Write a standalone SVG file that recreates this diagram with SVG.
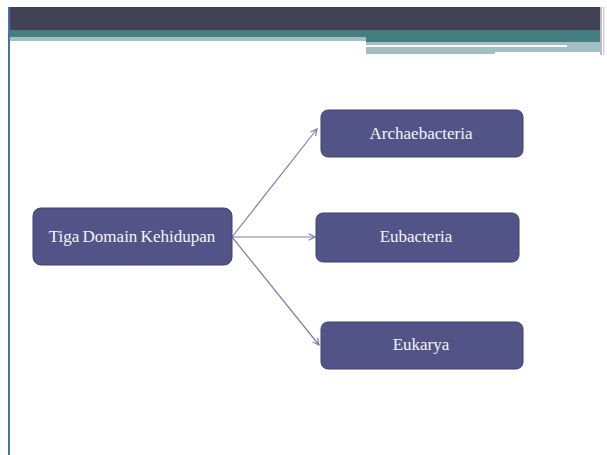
<svg xmlns="http://www.w3.org/2000/svg" width="607" height="455" viewBox="0 0 607 455">
<style>
.node rect{fill:#525487;stroke:#3f4170;stroke-width:1}
.node text{font-family:"Liberation Serif","DejaVu Serif",serif;font-size:17px;fill:#f4f4f8;text-anchor:middle}
.conn line{stroke:#7c7dab;stroke-width:1.2;marker-end:url(#arr)}
</style>
<defs>
<marker id="arr" viewBox="0 0 10 10" refX="9" refY="5" markerWidth="8" markerHeight="8" markerUnits="userSpaceOnUse" orient="auto">
<path d="M1,1 L9,5 L1,9" fill="none" stroke="#7c7dab" stroke-width="1.5"/>
</marker>
</defs>
<rect width="607" height="455" fill="#ffffff"/>
<g id="header">
<rect x="9" y="7" width="592" height="23" fill="#414355"/>
<rect x="9" y="30" width="592" height="7" fill="#447e80"/>
<rect x="9" y="37" width="357" height="4" fill="#a3bfc1"/>
<rect x="366" y="37" width="235" height="5" fill="#447e80"/>
<rect x="366" y="42" width="235" height="10" fill="#a3bfc1"/>
<rect x="366" y="45" width="201" height="2" fill="#ffffff"/>
<rect x="366" y="52" width="129" height="2" fill="#a3bfc1"/>
<rect x="600" y="7" width="2" height="48" fill="#b9bcc4"/>
<rect x="603" y="7" width="1.5" height="48" fill="#d0d2d8"/>
<rect x="8" y="7" width="2" height="448" fill="#4d70ac"/>
</g>
<g class="conn" id="connectors">
<line x1="232" y1="237" x2="317" y2="129"/>
<line x1="232" y1="237" x2="315" y2="237"/>
<line x1="232" y1="237" x2="319" y2="345"/>
</g>
<g class="node" id="root">
<rect x="33" y="208" width="199" height="57" rx="8"/>
<text x="132" y="242" word-spacing="-1">Tiga Domain Kehidupan</text>
</g>
<g class="node" id="archaebacteria">
<rect x="321" y="110" width="202" height="47" rx="7"/>
<text x="421" y="139">Archaebacteria</text>
</g>
<g class="node" id="eubacteria">
<rect x="316" y="213" width="203" height="49" rx="7"/>
<text x="416" y="242">Eubacteria</text>
</g>
<g class="node" id="eukarya">
<rect x="321" y="322" width="202" height="47" rx="7"/>
<text x="421" y="350">Eukarya</text>
</g>
</svg>
